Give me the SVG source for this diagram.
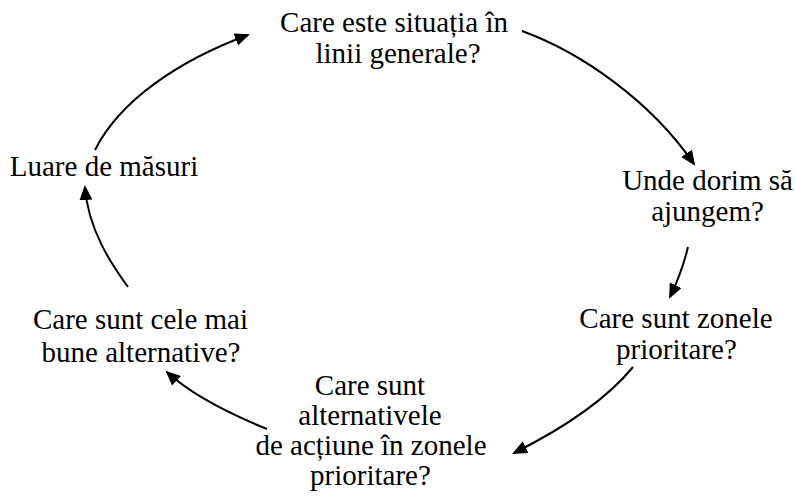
<svg xmlns="http://www.w3.org/2000/svg" width="796" height="498" viewBox="0 0 796 498">
<defs>
<style>
.t{font-family:'Liberation Serif','Times New Roman',Times,'DejaVu Serif',serif;font-size:29px;fill:#000;text-anchor:middle}
.c{fill:none;stroke:#000;stroke-width:2;marker-end:url(#ah)}
</style>
<marker id="ah" markerUnits="userSpaceOnUse" markerWidth="16" markerHeight="14" refX="13" refY="6.5" orient="auto">
<path d="M0,0 L15,6.5 L0,13 z" fill="#000"/>
</marker>
</defs>
<rect width="796" height="498" fill="#fff"/>
<g class="t" font-family="Liberation Serif, serif">
<g id="n1"><text x="394" y="32">Care este situația în</text><text x="398" y="63">linii generale?</text></g>
<g id="n2"><text x="707.5" y="190">Unde dorim să</text><text x="707.5" y="221">ajungem?</text></g>
<g id="n3"><text x="676" y="328">Care sunt zonele</text><text x="676.5" y="359">prioritare?</text></g>
<g id="n4"><text x="370" y="395">Care sunt</text><text x="370" y="425">alternativele</text><text x="371" y="455">de acțiune în zonele</text><text x="370.5" y="485">prioritare?</text></g>
<g id="n5"><text x="140.5" y="329">Care sunt cele mai</text><text x="141" y="362">bune alternative?</text></g>
<g id="n6"><text x="104" y="176">Luare de măsuri</text></g>
</g>
<g id="connectors">
<path class="c" d="M522,31 C580,52 650,100 694,164"/>
<path class="c" d="M688,247 Q682,272 670,297"/>
<path class="c" d="M633,367 C610,395 570,425 514,453"/>
<path class="c" d="M267,429 C240,418 195,398 167,372"/>
<path class="c" d="M128,287 C112,265 88,230 85,187"/>
<path class="c" d="M95,150 C120,100 180,60 248,35"/>
</g>
</svg>
